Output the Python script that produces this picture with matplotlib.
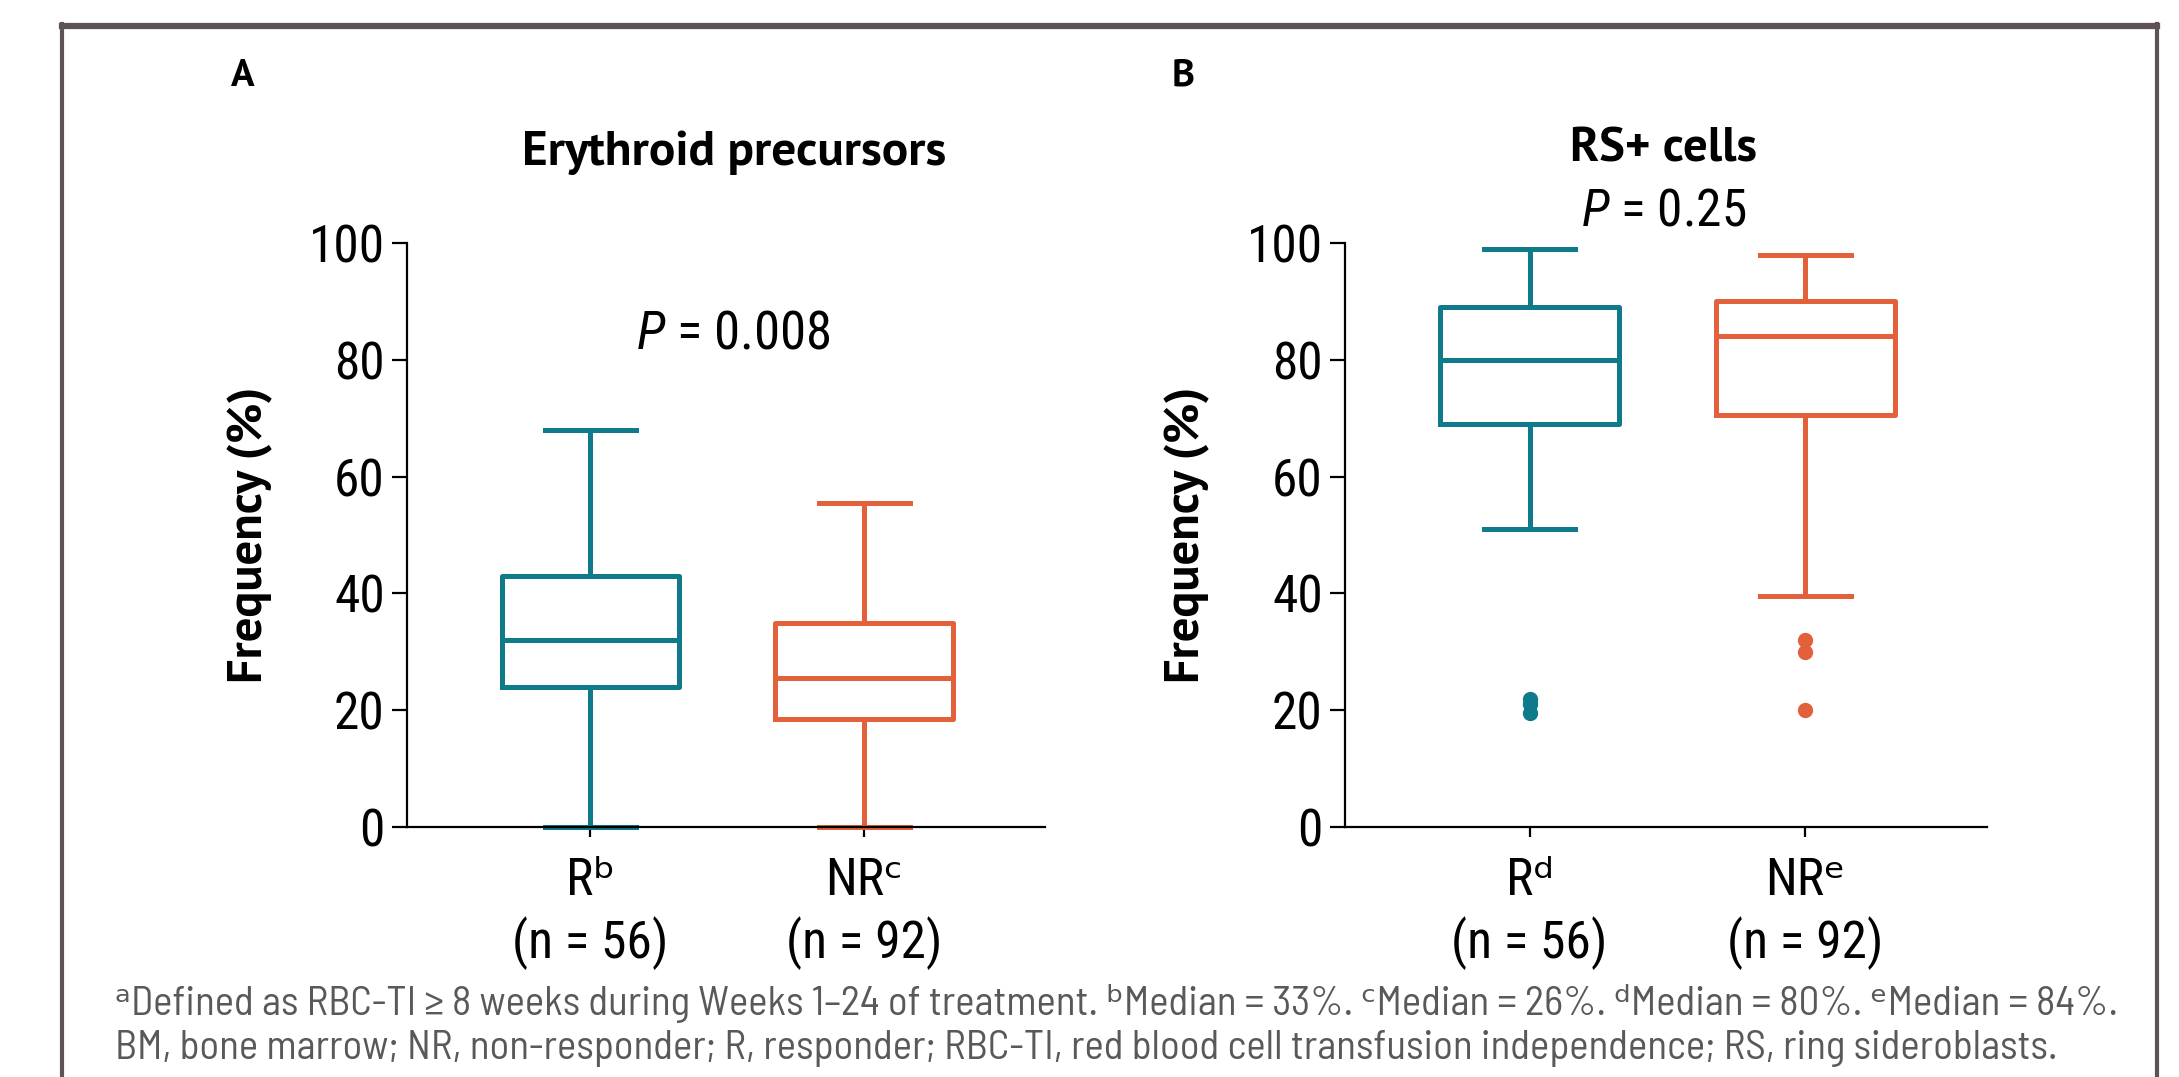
#!/usr/bin/env python3
"""Box plots: erythroid precursors and RS+ cells, responders vs non-responders."""

import matplotlib
matplotlib.use("Agg")
import matplotlib.pyplot as plt
from matplotlib.lines import Line2D

TEAL = "#0f7a8a"
ORANGE = "#e2613b"
FRAME = "#5d5254"
NOTE = "#58595b"

NARROW = ["Roboto Condensed", "DejaVu Sans"]
NOTE_FONT = ["Barlow Semi Condensed", "DejaVu Sans"]
BOLD = ["PT Sans", "DejaVu Sans"]

plt.rcParams["mathtext.fontset"] = "custom"
plt.rcParams["mathtext.it"] = "Roboto Condensed:italic"
plt.rcParams["mathtext.rm"] = "Roboto Condensed"

# panel A: erythroid precursors (%)
ery_labels = ["Rᵇ\n(n = 56)", "NRᶜ\n(n = 92)"]
ery_low = [0, 0]
ery_q1 = [24, 18.5]
ery_med = [32, 25.5]
ery_q3 = [43, 35]
ery_high = [68, 55.5]
ery_fliers = [[], []]

# panel B: RS+ cells (%)
rs_labels = ["Rᵈ\n(n = 56)", "NRᵉ\n(n = 92)"]
rs_low = [51, 39.5]
rs_q1 = [69, 70.5]
rs_med = [80, 84]
rs_q3 = [89, 90]
rs_high = [99, 98]
rs_fliers = [[19.5, 21, 22], [20, 30, 32]]

colors = [TEAL, ORANGE]

footnote_1 = ("ᵃDefined as RBC-TI ≥ 8 weeks during Weeks 1–24 of treatment. ᵇMedian = 33%. "
              "ᶜMedian = 26%. ᵈMedian = 80%. ᵉMedian = 84%.")
footnote_2 = ("BM, bone marrow; NR, non-responder; R, responder; RBC-TI, red blood cell "
              "transfusion independence; RS, ring sideroblasts.")


def make_stats(low, q1, med, q3, high, fliers):
    return [
        dict(whislo=lo, q1=a, med=m, q3=b, whishi=hi, fliers=f)
        for lo, a, m, b, hi, f in zip(low, q1, med, q3, high, fliers)
    ]


def draw_panel(ax, stats, labels):
    for i, (st, c) in enumerate(zip(stats, colors)):
        ax.bxp(
            [st],
            positions=[i + 1],
            widths=0.65,
            capwidths=0.33,
            showfliers=True,
            boxprops=dict(color=c, linewidth=3.6),
            medianprops=dict(color=c, linewidth=3.6),
            whiskerprops=dict(color=c, linewidth=3.6),
            capprops=dict(color=c, linewidth=3.6),
            flierprops=dict(marker="o", markerfacecolor=c, markeredgecolor=c,
                            markersize=10),
            manage_ticks=False,
        )
    for art in ax.lines:
        art.set_clip_on(False)
    ax.set_xlim(0.33, 2.66)
    ax.set_ylim(0, 100)
    ax.set_yticks([0, 20, 40, 60, 80, 100])
    ax.set_xticks([1, 2])
    ax.set_xticklabels(labels, linespacing=1.25)
    for s in ("top", "right"):
        ax.spines[s].set_visible(False)
    for s in ("left", "bottom"):
        ax.spines[s].set_linewidth(1.6)
    ax.tick_params(axis="y", length=11, width=1.6, labelsize=37, pad=5)
    ax.tick_params(axis="x", length=7, width=1.6, labelsize=37, pad=14)
    for t in ax.get_xticklabels() + ax.get_yticklabels():
        t.set_family(NARROW)
    ax.set_ylabel("Frequency (%)", fontsize=35, fontweight="bold", family=BOLD)
    ax.yaxis.set_label_coords(-0.21, 0.5)


fig = plt.figure(figsize=(21.79, 10.77), dpi=100)

ax_a = fig.add_axes([0.1868, 0.2321, 0.2928, 0.5423])
ax_b = fig.add_axes([0.6173, 0.2321, 0.2946, 0.5423])

draw_panel(ax_a, make_stats(ery_low, ery_q1, ery_med, ery_q3, ery_high, ery_fliers), ery_labels)
draw_panel(ax_b, make_stats(rs_low, rs_q1, rs_med, rs_q3, rs_high, rs_fliers), rs_labels)

ax_a.text(0.512, 84.4, r"$\mathit{P}$ = 0.008", transform=ax_a.get_yaxis_transform(),
          ha="center", va="center", fontsize=38, family=NARROW)

# panel letters and titles
fig.text(0.1115, 0.929, "A", fontsize=28, fontweight="bold", family=BOLD, ha="center", va="center")
fig.text(0.543, 0.929, "B", fontsize=28, fontweight="bold", family=BOLD, ha="center", va="center")
fig.text(0.3369, 0.858, "Erythroid precursors", fontsize=35.5, fontweight="bold", family=BOLD,
         ha="center", va="center")
fig.text(0.7636, 0.861, "RS+ cells", fontsize=35, fontweight="bold", family=BOLD,
         ha="center", va="center")
fig.text(0.7636, 0.804, r"$\mathit{P}$ = 0.25", fontsize=37, family=NARROW,
         ha="center", va="center")

# footnote, sized to span the same width as in the source
note1 = fig.text(0.0528, 0.0687, footnote_1, fontsize=25, color=NOTE, family=NOTE_FONT,
                 va="center")
note2 = fig.text(0.0528, 0.026, footnote_2, fontsize=25, color=NOTE, family=NOTE_FONT,
                 va="center")
fig.canvas.draw()
width = note1.get_window_extent(fig.canvas.get_renderer()).width
size = 25 * 2005 / width
note1.set_fontsize(size)
note2.set_fontsize(size)

# surrounding frame
fig.add_artist(Line2D([0.0285, 0.9899], [0.9759, 0.9759], color=FRAME, linewidth=4.5,
                      transform=fig.transFigure))
fig.add_artist(Line2D([0.0285, 0.0285], [0.0, 0.978], color=FRAME, linewidth=3,
                      transform=fig.transFigure))
fig.add_artist(Line2D([0.9899, 0.9899], [0.0, 0.978], color=FRAME, linewidth=3,
                      transform=fig.transFigure))

fig.savefig("out.png", dpi=100)
